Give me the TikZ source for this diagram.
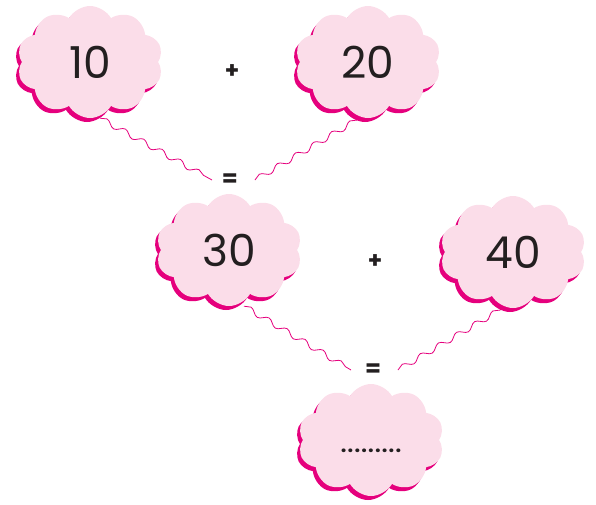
\documentclass[tikz,border=0pt]{standalone}
\usepackage{fontspec}
\setmainfont{Poppins}
\usetikzlibrary{shapes.symbols,shadows,decorations.pathmorphing}
\definecolor{cloudpink}{HTML}{FBDDE9}
\definecolor{cloudmag}{HTML}{E5007D}
\definecolor{inkgray}{HTML}{231F20}
\begin{document}
\begin{tikzpicture}[x=1pt,y=-1pt,
  cloudbox/.style={cloud, cloud puffs=10, cloud puff arc=120, aspect=1.3,
    minimum width=146pt, minimum height=112pt, inner sep=0pt,
    fill=cloudpink, text=inkgray, font=\fontsize{44}{46}\selectfont,
    general shadow={fill=cloudmag, shadow xshift=-3pt, shadow yshift=-4pt}},
  opsign/.style={text=inkgray, font=\bfseries\fontsize{23}{25}\selectfont, inner sep=2pt},
  wavy/.style={draw=cloudmag, line width=0.8pt,
    decorate, decoration={snake, segment length=21pt, amplitude=2.8pt}}]
\useasboundingbox (0,0) rectangle (596,504);
\node[cloudbox] (c1) at (90,62) {10};
\node[cloudbox] (c2) at (368,62) {20};
\node[cloudbox] (c3) at (229,250) {30};
\node[cloudbox] (c4) at (513,252) {40};
\node[cloudbox] (c5) at (371,440) {};
\node[text=inkgray, font=\bfseries\fontsize{20}{22}\selectfont] (dots) at (371,451) {.\kern1.2pt.\kern1.2pt.\kern1.2pt.\kern1.2pt.\kern1.2pt.\kern1.2pt.\kern1.2pt.\kern1.2pt.};
\node[opsign] (p1) at (232,72) {+};
\node[opsign] (e1) at (230,180) {=};
\node[opsign] (p2) at (375,262) {+};
\node[opsign] (e2) at (373,370) {=};
\coordinate (a1) at ([xshift=10pt]c1.south);
\coordinate (a2) at ([xshift=-8pt]c2.south);
\coordinate (a3) at ([xshift=15pt]c3.south);
\coordinate (a4) at ([xshift=-10pt]c4.south);
\draw[wavy] (a1) -- ([xshift=-18pt]e1.center);
\draw[wavy] ([xshift=25pt]e1.center) -- (a2);
\draw[wavy] (a3) -- ([xshift=-22pt]e2.center);
\draw[wavy] ([xshift=25pt]e2.center) -- (a4);
\end{tikzpicture}
\end{document}
